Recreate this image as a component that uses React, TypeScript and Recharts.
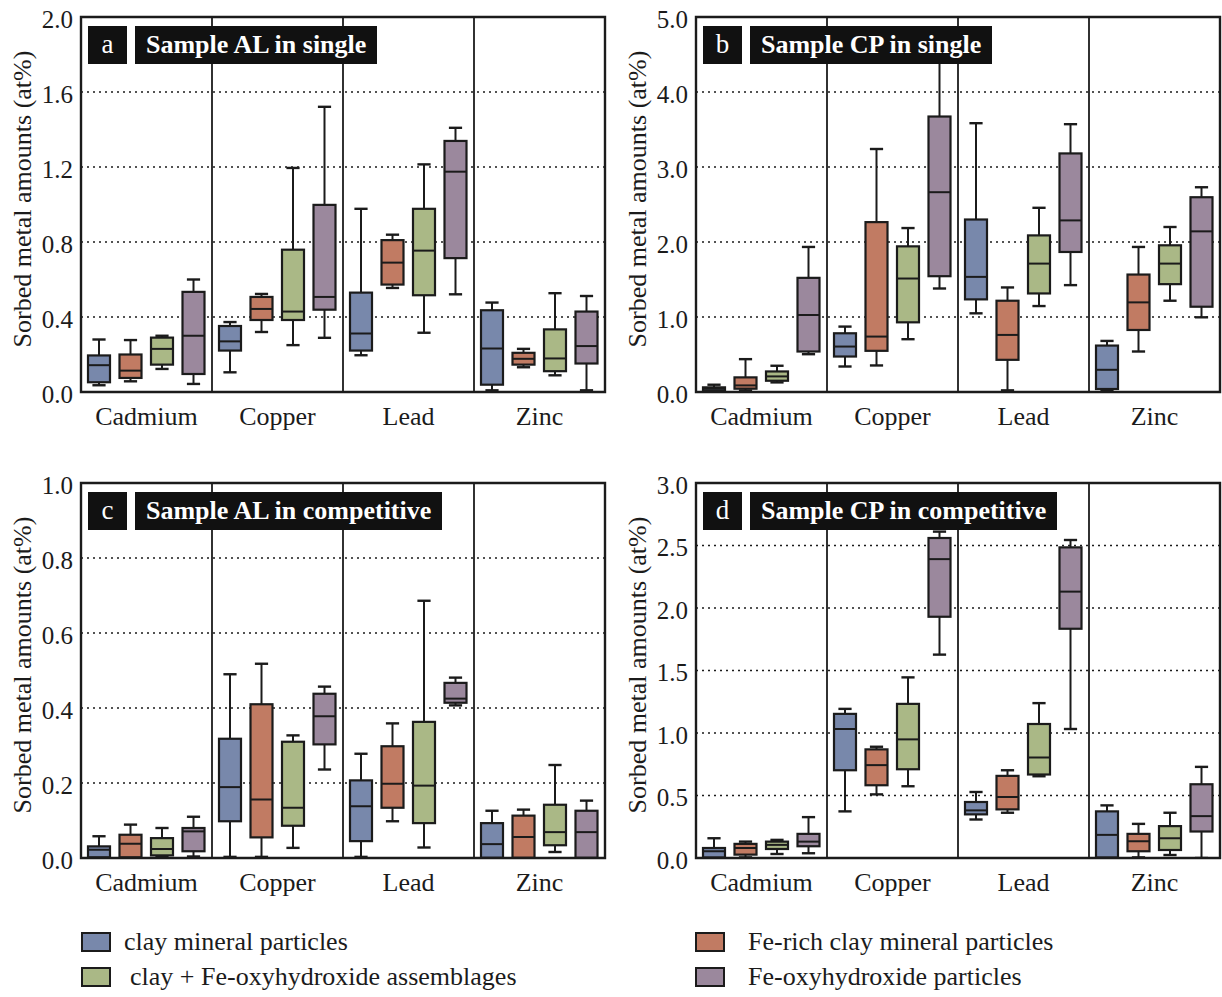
import React from 'react';
import { ComposedChart, Bar, XAxis, YAxis, CartesianGrid, ReferenceLine, ReferenceArea } from 'recharts';

const METALS = ['Cadmium', 'Copper', 'Lead', 'Zinc'];
const SERIES_KEYS = ['clay', 'feclay', 'assem', 'feox'];
const SERIES_NAMES = [
  'clay mineral particles',
  'Fe-rich clay mineral particles',
  'clay + Fe-oxyhydroxide assemblages',
  'Fe-oxyhydroxide particles',
];
const SERIES_COLORS = ['#7888ab', '#c17b63', '#aab886', '#9b889d'];

// each row: [min, q1, median, q3, max] for Cadmium, Copper, Lead, Zinc
const A_CLAY = [[0.036, 0.052, 0.143, 0.195, 0.28], [0.105, 0.221, 0.27, 0.352, 0.373], [0.196, 0.221, 0.312, 0.53, 0.977], [0.009, 0.039, 0.232, 0.436, 0.477]];
const A_FECLAY = [[0.057, 0.075, 0.114, 0.2, 0.277], [0.32, 0.384, 0.443, 0.507, 0.523], [0.555, 0.573, 0.69, 0.81, 0.839], [0.132, 0.146, 0.177, 0.209, 0.23]];
const A_ASSEM = [[0.123, 0.146, 0.23, 0.29, 0.3], [0.25, 0.384, 0.429, 0.759, 1.195], [0.316, 0.516, 0.754, 0.977, 1.214], [0.089, 0.111, 0.179, 0.334, 0.527]];
const A_FEOX = [[0.043, 0.096, 0.3, 0.534, 0.6], [0.289, 0.439, 0.507, 0.998, 1.521], [0.521, 0.714, 1.175, 1.339, 1.409], [0.009, 0.152, 0.245, 0.429, 0.512]];

const B_CLAY = [[0.01, 0.02, 0.044, 0.062, 0.097], [0.34, 0.473, 0.606, 0.783, 0.872], [1.049, 1.235, 1.535, 2.3, 3.584], [0.02, 0.04, 0.296, 0.619, 0.681]];
const B_FECLAY = [[0.02, 0.044, 0.088, 0.195, 0.438], [0.354, 0.549, 0.739, 2.265, 3.24], [0.022, 0.429, 0.761, 1.217, 1.394], [0.54, 0.827, 1.195, 1.566, 1.934]];
const B_ASSEM = [[0.128, 0.15, 0.208, 0.274, 0.35], [0.704, 0.929, 1.513, 1.942, 2.186], [1.146, 1.314, 1.712, 2.088, 2.456], [1.217, 1.438, 1.712, 1.956, 2.2]];
const B_FEOX = [[0.504, 0.54, 1.027, 1.522, 1.934], [1.38, 1.544, 2.664, 3.673, 4.5], [1.425, 1.867, 2.288, 3.181, 3.571], [0.996, 1.137, 2.142, 2.597, 2.73]];

const C_CLAY = [[0, 0.002, 0.022, 0.031, 0.058], [0.003, 0.098, 0.189, 0.318, 0.49], [0.003, 0.045, 0.138, 0.207, 0.278], [0, 0.001, 0.037, 0.093, 0.126]];
const C_FECLAY = [[0, 0.002, 0.038, 0.062, 0.089], [0.003, 0.055, 0.156, 0.41, 0.518], [0.098, 0.134, 0.198, 0.298, 0.359], [0, 0.001, 0.056, 0.113, 0.129]];
const C_ASSEM = [[0.004, 0.007, 0.024, 0.053, 0.08], [0.027, 0.086, 0.134, 0.31, 0.327], [0.028, 0.093, 0.193, 0.363, 0.686], [0.016, 0.034, 0.069, 0.142, 0.248]];
const C_FEOX = [[0.004, 0.018, 0.071, 0.08, 0.11], [0.236, 0.303, 0.378, 0.438, 0.457], [0.407, 0.414, 0.425, 0.467, 0.481], [0, 0.001, 0.069, 0.126, 0.153]];

const D_CLAY = [[0, 0.005, 0.054, 0.08, 0.158], [0.373, 0.702, 1.032, 1.153, 1.193], [0.308, 0.349, 0.381, 0.448, 0.528], [0, 0.005, 0.185, 0.373, 0.421]];
const D_FECLAY = [[0.005, 0.027, 0.08, 0.113, 0.131], [0.509, 0.582, 0.743, 0.869, 0.89], [0.362, 0.389, 0.488, 0.657, 0.702], [0.005, 0.054, 0.134, 0.193, 0.273]];
const D_ASSEM = [[0.032, 0.072, 0.105, 0.131, 0.145], [0.574, 0.71, 0.949, 1.233, 1.445], [0.654, 0.668, 0.804, 1.072, 1.239], [0.024, 0.064, 0.158, 0.255, 0.362]];
const D_FEOX = [[0.038, 0.094, 0.131, 0.193, 0.327], [1.627, 1.93, 2.391, 2.56, 2.611], [1.032, 1.834, 2.131, 2.485, 2.544], [0, 0.212, 0.335, 0.59, 0.729]];

const A_TICKS = [0, 0.4, 0.8, 1.2, 1.6, 2.0];
const B_TICKS = [0, 1, 2, 3, 4, 5];
const C_TICKS = [0, 0.2, 0.4, 0.6, 0.8, 1.0];
const D_TICKS = [0, 0.5, 1.0, 1.5, 2.0, 2.5, 3.0];

const PANELS = [
  { letter: 'a', title: 'Sample AL in single', series: [A_CLAY, A_FECLAY, A_ASSEM, A_FEOX], ticks: A_TICKS, left: 0, top: 0 },
  { letter: 'b', title: 'Sample CP in single', series: [B_CLAY, B_FECLAY, B_ASSEM, B_FEOX], ticks: B_TICKS, left: 615, top: 0 },
  { letter: 'c', title: 'Sample AL in competitive', series: [C_CLAY, C_FECLAY, C_ASSEM, C_FEOX], ticks: C_TICKS, left: 0, top: 466 },
  { letter: 'd', title: 'Sample CP in competitive', series: [D_CLAY, D_FECLAY, D_ASSEM, D_FEOX], ticks: D_TICKS, left: 615, top: 466 },
];

const FONT = "'Liberation Serif', 'Times New Roman', Times, serif";
const INK = '#1b1b1b';

const buildRows = (series: number[][][]) =>
  METALS.map((metal, i) => {
    const row: any = { metal };
    SERIES_KEYS.forEach((k, s) => {
      const st = series[s][i];
      row[k + '_range'] = [st[0], st[4]];
      row[k + '_stats'] = st;
    });
    return row;
  });

const makeBoxShape = (key: string, color: string) => (props: any) => {
  const { x, y, width, height, payload } = props;
  if (x == null || y == null || !payload) return <g />;
  const st = payload[key + '_stats'];
  const [mn, q1, md, q3, mx] = st;
  const top = Math.min(y, y + height);
  const bot = Math.max(y, y + height);
  const py = (v: number) => (mx === mn ? bot : bot - ((v - mn) / (mx - mn)) * (bot - top));
  const cx = x + width / 2;
  const cap = width * 0.6;
  const yq3 = py(q3);
  const yq1 = py(q1);
  return (
    <g>
      <line x1={cx} x2={cx} y1={top} y2={bot} stroke={INK} strokeWidth={2} />
      <line x1={cx - cap / 2} x2={cx + cap / 2} y1={top} y2={top} stroke={INK} strokeWidth={2.4} />
      <line x1={cx - cap / 2} x2={cx + cap / 2} y1={bot} y2={bot} stroke={INK} strokeWidth={2.4} />
      <rect x={x} y={yq3} width={width} height={Math.max(yq1 - yq3, 0.5)} fill={color} stroke={INK} strokeWidth={2.2} />
      <line x1={x} x2={x + width} y1={py(md)} y2={py(md)} stroke={INK} strokeWidth={2} />
    </g>
  );
};

const CHART_W = 607;
const CHART_H = 440;

const Panel = ({ panel }: { panel: any }) => {
  const rows = buildRows(panel.series);
  const ticks: number[] = panel.ticks;
  const yMax = ticks[ticks.length - 1];
  return (
    <div style={{ position: 'absolute', left: panel.left, top: panel.top, width: CHART_W, height: CHART_H }}>
      <ComposedChart
        width={CHART_W}
        height={CHART_H}
        data={rows}
        margin={{ top: 17, right: 2, bottom: 8, left: 31 }}
        barGap={9.5}
      >
        <CartesianGrid vertical={false} stroke={INK} strokeDasharray="2 4" strokeWidth={1.6} />
        <XAxis
          dataKey="metal"
          type="category"
          height={40}
          axisLine={false}
          tickLine={false}
          tickMargin={9}
          tick={{ fontFamily: FONT, fontSize: 26, fill: INK }}
          interval={0}
        />
        <YAxis
          width={50}
          domain={[0, yMax]}
          ticks={ticks}
          allowDataOverflow
          axisLine={false}
          tickLine={false}
          tickFormatter={(v: number) => v.toFixed(1)}
          tick={{ fontFamily: FONT, fontSize: 25, fill: INK, dy: 2 }}
        />
        {METALS.slice(1).map((m) => (
          <ReferenceLine key={m} x={m} position="start" stroke={INK} strokeWidth={1.8} />
        ))}
        {SERIES_KEYS.map((k, s) => (
          <Bar
            key={k}
            dataKey={k + '_range'}
            barSize={22}
            fill={SERIES_COLORS[s]}
            isAnimationActive={false}
            shape={makeBoxShape(k, SERIES_COLORS[s])}
          />
        ))}
        <ReferenceArea y1={0} y2={yMax} fill="none" fillOpacity={0} stroke={INK} strokeWidth={2.4} ifOverflow="visible" />
      </ComposedChart>
      <div
        style={{
          position: 'absolute', left: 23, top: 199, transform: 'translate(-50%, -50%) rotate(-90deg)',
          whiteSpace: 'nowrap', fontFamily: FONT, fontSize: 26, color: INK, lineHeight: 1,
        }}
      >
        Sorbed metal amounts (at%)
      </div>
      <div
        style={{
          position: 'absolute', left: 88, top: 26, width: 39, height: 38, background: '#111',
          color: '#fff', fontFamily: FONT, fontSize: 27, lineHeight: '36px', textAlign: 'center',
        }}
      >
        {panel.letter}
      </div>
      <div
        style={{
          position: 'absolute', left: 135, top: 26, height: 38, background: '#111', color: '#fff',
          fontFamily: FONT, fontSize: 26, fontWeight: 'bold', lineHeight: '38px', padding: '0 11px', whiteSpace: 'nowrap',
        }}
      >
        {panel.title}
      </div>
    </div>
  );
};

const LEGEND_POS = [
  { x: 81, y: 932, textX: 124 },
  { x: 695, y: 932, textX: 748 },
  { x: 81, y: 967, textX: 130 },
  { x: 695, y: 967, textX: 748 },
];

export default function App() {
  return (
    <div style={{ position: 'absolute', left: 0, top: 0, width: 1222, height: 997, background: '#fff', overflow: 'hidden' }}>
      {PANELS.map((p) => (
        <Panel key={p.letter} panel={p} />
      ))}
      {SERIES_NAMES.map((name, i) => (
        <React.Fragment key={name}>
          <div
            style={{
              position: 'absolute', left: LEGEND_POS[i].x, top: LEGEND_POS[i].y, width: 26, height: 16,
              background: SERIES_COLORS[i], border: `2px solid ${INK}`,
            }}
          />
          <div
            style={{
              position: 'absolute', left: LEGEND_POS[i].textX, top: LEGEND_POS[i].y + 10, transform: 'translateY(-50%)',
              fontFamily: FONT, fontSize: 26, color: INK, whiteSpace: 'nowrap', lineHeight: 1,
            }}
          >
            {name}
          </div>
        </React.Fragment>
      ))}
    </div>
  );
}
